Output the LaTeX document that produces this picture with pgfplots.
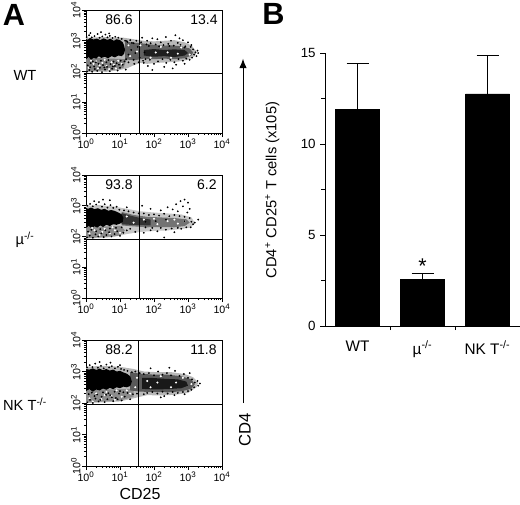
\documentclass[border=0pt]{standalone}
\usepackage{fontspec}
\setmainfont{Liberation Sans}
\usepackage{pgfplots}
\pgfplotsset{compat=1.18}
\usetikzlibrary{arrows.meta}
\tikzset{pct/.style={font=\fontsize{10.5}{10.5}\selectfont, anchor=east, inner sep=0pt}}
\pgfplotsset{
 flow/.style={
  width=102pt, scale only axis,
  xmin=0,xmax=4,ymin=0,ymax=4,
  xtick={0,1,2,3,4}, ytick={0,1,2,3,4},
  xticklabels={10\textsuperscript{0},10\textsuperscript{1},10\textsuperscript{2},10\textsuperscript{3},10\textsuperscript{4}},
  yticklabels={10\textsuperscript{0},10\textsuperscript{1},10\textsuperscript{2},10\textsuperscript{3},10\textsuperscript{4}},
  minor xtick={0.301,0.477,0.602,0.699,0.778,0.845,0.903,0.954,1.301,1.477,1.602,1.699,1.778,1.845,1.903,1.954,2.301,2.477,2.602,2.699,2.778,2.845,2.903,2.954,3.301,3.477,3.602,3.699,3.778,3.845,3.903,3.954},
  minor ytick={0.301,0.477,0.602,0.699,0.778,0.845,0.903,0.954,1.301,1.477,1.602,1.699,1.778,1.845,1.903,1.954,2.301,2.477,2.602,2.699,2.778,2.845,2.903,2.954,3.301,3.477,3.602,3.699,3.778,3.845,3.903,3.954},
  xtick pos=bottom, ytick pos=left,
  tick align=outside,
  major tick length=3pt, minor tick length=1.6pt,
  every tick/.append style={black, line width=0.5pt},
  axis line style={line width=0.7pt},
  tick label style={font=\fontsize{8}{8}\selectfont},
  yticklabel style={rotate=90, anchor=south, inner sep=1pt},
  xticklabel style={inner sep=1.5pt},
 },
 cloud/.style={only marks, mark=*, mark size=0.45pt, black},
 holes/.style={only marks, mark=*, mark size=0.55pt, white, mark options={draw=none, fill=white}},
 quad/.style={black, line width=0.6pt},
}
\begin{document}
\begin{tikzpicture}
\path[use as bounding box] (0,0) rectangle (390pt,-378pt);

% ---------------- WT ----------------
\begin{axis}[flow, height=92.25pt, at={(64.5pt,-7.5pt)}, anchor=north west]
\addplot[fill=black!28, draw=none] coordinates {(0,1.97)(0.3,2.0)(0.6,1.99)(0.9,2.03)(1.2,2.1)(1.4,2.2)(1.6,2.28)(1.8,2.25)(2.1,2.28)(2.4,2.3)(2.7,2.32)(3.0,2.38)(3.2,2.5)(3.25,2.65)(3.1,2.85)(2.9,2.95)(2.6,3.02)(2.3,3.0)(2.0,2.98)(1.7,3.0)(1.4,3.05)(1.1,3.1)(0.5,3.12)(0,3.1)} -- cycle;
\addplot[fill=black!50, draw=none] coordinates {(0,2.0)(0.4,2.03)(0.8,2.05)(1.1,2.12)(1.2,2.4)(0,2.45)} -- cycle;
\addplot[fill=black!62, draw=none] coordinates {(1.15,2.40)(1.4,2.36)(1.7,2.42)(2.0,2.40)(2.3,2.42)(2.6,2.40)(2.9,2.43)(3.1,2.52)(3.15,2.62)(3.05,2.75)(2.8,2.82)(2.5,2.85)(2.2,2.84)(1.9,2.88)(1.6,2.92)(1.3,2.95)(1.15,2.98)} -- cycle;
\addplot[fill=black!88, draw=none] coordinates {(1.7,2.52)(2.0,2.48)(2.3,2.50)(2.6,2.47)(2.9,2.52)(3.0,2.6)(2.9,2.70)(2.6,2.72)(2.3,2.70)(2.0,2.73)(1.7,2.70)} -- cycle;
\addplot[fill=black, draw=none] coordinates {(0,2.40)(0.08,2.47)(0.15,2.38)(0.22,2.45)(0.3,2.42)(0.38,2.50)(0.45,2.44)(0.55,2.48)(0.65,2.43)(0.75,2.50)(0.85,2.46)(0.95,2.52)(1.05,2.50)(1.12,2.58)(1.15,2.70)(1.12,2.85)(1.08,2.95)(1.0,3.02)(0.9,3.05)(0.82,3.00)(0.72,3.06)(0.62,3.03)(0.52,3.08)(0.42,3.02)(0.32,3.07)(0.22,3.04)(0.12,3.09)(0.05,3.03)(0,3.06)} -- cycle;
\addplot[holes] coordinates {(0.08,2.12)(0.22,2.25)(0.35,2.1)(0.48,2.28)(0.6,2.18)(0.75,2.3)(0.88,2.1)(1.05,2.25)(0.15,2.35)(0.4,2.2)(0.68,2.08)(0.95,2.35)(0.3,2.33)(0.55,2.38)(0.82,2.22)
(1.3,2.5)(1.5,2.65)(1.9,2.45)(2.2,2.8)(2.5,2.45)(2.8,2.78)(3.05,2.55)(1.6,2.85)(2.4,2.62)(2.05,2.62)(2.7,2.58)(1.25,2.85)};
\addplot[cloud] coordinates {
(0.03,2.0)(0.1,2.05)(0.18,1.99)(0.26,2.08)(0.33,2.02)(0.41,2.12)(0.47,1.98)(0.56,2.06)(0.62,2.15)(0.7,2.01)(0.77,2.09)(0.85,2.18)(0.93,2.03)(1.0,2.12)(1.08,2.22)(1.17,2.06)(1.25,2.3)(0.05,2.2)(0.14,2.27)(0.24,2.16)(0.37,2.25)(0.5,2.21)(0.6,2.3)(0.72,2.24)(0.81,2.32)(0.9,2.27)(1.02,2.35)(1.13,2.33)(0.2,2.33)(0.44,2.35)(0.66,2.37)(0.12,2.14)(0.29,2.3)(0.54,2.13)(0.79,2.16)(0.97,2.22)
(0.02,3.12)(0.09,3.18)(0.17,3.11)(0.25,3.15)(0.34,3.22)(0.4,3.1)(0.48,3.14)(0.57,3.2)(0.63,3.11)(0.7,3.16)(0.78,3.09)(0.86,3.13)(0.95,3.1)(1.05,3.06)(1.15,3.0)(1.22,2.96)(1.3,3.02)(1.4,2.92)(0.44,3.28)(0.13,3.25)(0.68,3.24)
(1.18,2.4)(1.25,2.55)(1.33,2.7)(1.4,2.38)(1.45,2.6)(1.52,2.8)(1.58,2.45)(1.62,2.95)(1.68,2.35)(1.72,2.62)(1.78,2.88)(1.2,2.99)(1.35,2.93)(1.48,3.0)(1.55,2.3)(1.42,2.25)(1.75,2.4)
(1.65,3.1)(1.8,3.0)(1.9,2.92)(1.95,3.08)(2.05,2.88)(2.1,3.05)(2.2,2.95)(2.28,2.86)(2.35,3.12)(2.42,2.9)(2.5,3.0)(2.58,2.84)(2.63,3.18)(2.7,2.93)(2.78,2.87)(2.85,3.02)(2.92,2.82)(3.0,2.95)(3.08,2.8)(3.15,2.72)(3.22,2.62)(3.28,2.68)(3.18,2.55)(3.12,2.45)(3.05,2.38)(2.95,2.42)(2.85,2.35)(2.72,2.4)(2.6,2.3)(2.48,2.38)(2.36,2.28)(2.25,2.4)(2.12,2.33)(2.0,2.25)(1.88,2.38)(1.82,2.18)(1.7,2.28)(2.3,2.15)(2.65,2.22)(2.9,2.25)(1.95,2.05)(2.55,2.1)(3.25,2.5)(3.3,2.6)(2.75,3.08)(2.15,2.82)(1.85,2.83)(2.45,2.83)(2.9,2.78)(3.1,2.86)
};
\addplot[quad] coordinates {(1.56,0)(1.56,4)};
\addplot[quad] coordinates {(0,1.95)(4,1.95)};
\node[pct] at (axis cs:1.38,3.67) {86.6};
\node[pct] at (axis cs:3.88,3.67) {13.4};
\end{axis}

% ---------------- mu ----------------
\begin{axis}[flow, height=92.25pt, at={(64.5pt,-131.25pt)}, anchor=north west]
\addplot[fill=black!22, draw=none] coordinates {(0,1.93)(0.4,1.95)(0.8,1.98)(1.2,2.08)(1.6,2.15)(2.0,2.18)(2.4,2.2)(2.8,2.24)(3.1,2.3)(3.2,2.45)(3.1,2.62)(2.8,2.72)(2.4,2.75)(2.0,2.78)(1.6,2.82)(1.2,2.9)(0.8,2.98)(0.4,3.02)(0,3.0)} -- cycle;
\addplot[fill=black!45, draw=none] coordinates {(0,1.95)(0.5,1.98)(1.0,2.03)(1.15,2.2)(1.0,2.35)(0,2.3)} -- cycle;
\addplot[fill=black!55, draw=none] coordinates {(1.05,2.36)(1.4,2.33)(1.8,2.30)(2.2,2.31)(2.6,2.30)(2.9,2.34)(3.05,2.45)(2.95,2.56)(2.6,2.60)(2.2,2.62)(1.8,2.64)(1.4,2.70)(1.05,2.80)} -- cycle;
\addplot[fill=black!80, draw=none] coordinates {(1.05,2.40)(1.3,2.38)(1.6,2.37)(1.9,2.36)(1.9,2.55)(1.6,2.60)(1.3,2.68)(1.05,2.76)} -- cycle;
\addplot[fill=black, draw=none] coordinates {(0,2.28)(0.08,2.34)(0.16,2.27)(0.25,2.33)(0.33,2.29)(0.42,2.36)(0.5,2.31)(0.6,2.38)(0.7,2.34)(0.8,2.40)(0.9,2.38)(1.0,2.42)(1.08,2.47)(1.1,2.6)(1.05,2.72)(0.95,2.78)(0.85,2.83)(0.75,2.86)(0.65,2.84)(0.55,2.9)(0.45,2.87)(0.35,2.92)(0.25,2.89)(0.15,2.94)(0.06,2.9)(0,2.93)} -- cycle;
\addplot[holes] coordinates {(0.1,2.1)(0.25,2.2)(0.4,2.05)(0.55,2.25)(0.7,2.1)(0.85,2.2)(1.0,2.12)(0.18,2.28)(0.48,2.15)(0.78,2.3)
(1.4,2.45)(1.7,2.55)(2.1,2.4)(2.4,2.5)(2.7,2.42)(2.9,2.5)(2.0,2.58)(2.6,2.55)(1.2,2.65)};
\addplot[cloud] coordinates {
(0.03,1.97)(0.11,2.03)(0.2,1.96)(0.28,2.07)(0.36,2.0)(0.45,2.1)(0.52,1.98)(0.6,2.05)(0.68,2.14)(0.75,2.0)(0.84,2.08)(0.92,2.17)(1.0,2.02)(1.1,2.12)(1.2,2.2)(0.06,2.16)(0.16,2.22)(0.3,2.17)(0.42,2.24)(0.57,2.2)(0.7,2.26)(0.88,2.28)(1.05,2.3)(1.3,2.25)(1.45,2.15)(1.7,2.12)(1.9,2.2)(2.1,2.17)(2.35,2.22)(2.6,2.14)(2.8,2.25)(2.3,1.97)
(0.04,3.0)(0.12,3.06)(0.2,2.98)(0.3,3.04)(0.38,3.12)(0.47,2.97)(0.55,3.05)(0.63,2.94)(0.72,3.02)(0.8,2.93)(0.9,2.97)(0.98,2.87)(1.12,2.85)(1.25,2.82)(0.5,3.2)(0.24,3.15)(0.7,3.18)(1.4,2.78)(1.55,2.75)(1.2,2.95)
(1.7,2.75)(1.85,2.7)(2.0,2.72)(2.15,2.68)(2.3,2.74)(2.45,2.66)(2.6,2.7)(2.75,2.66)(2.9,2.64)(3.05,2.6)(3.1,2.48)(3.15,2.4)(3.3,2.55)(3.08,2.3)(2.95,2.3)(2.7,2.28)(2.52,2.26)(2.2,2.28)(1.95,2.28)(1.75,2.3)(2.65,3.05)(2.78,3.15)(2.9,3.2)(2.85,2.98)(3.0,3.1)(3.05,2.9)(2.55,2.88)(2.4,2.95)(2.2,2.85)(1.9,2.9)(1.65,3.0)(3.2,2.45)(2.98,2.78)(2.7,2.82)(2.35,2.55)(2.05,2.5)(1.75,2.48)(2.9,2.5)
};
\addplot[quad] coordinates {(1.56,0)(1.56,4)};
\addplot[quad] coordinates {(0,1.92)(4,1.92)};
\node[pct] at (axis cs:1.38,3.67) {93.8};
\node[pct] at (axis cs:3.85,3.67) {6.2};
\end{axis}

% ---------------- NK T ----------------
\begin{axis}[flow, height=94.5pt, at={(64.5pt,-255pt)}, anchor=north west]
\addplot[fill=black!28, draw=none] coordinates {(0,2.0)(0.5,2.02)(1.0,2.05)(1.4,2.15)(1.8,2.25)(2.2,2.24)(2.6,2.26)(3.0,2.32)(3.25,2.5)(3.3,2.65)(3.15,2.82)(2.9,2.92)(2.5,2.98)(2.1,2.98)(1.7,3.0)(1.4,3.08)(1.0,3.15)(0.5,3.18)(0,3.15)} -- cycle;
\addplot[fill=black!45, draw=none] coordinates {(0,2.02)(0.5,2.05)(1.0,2.08)(1.4,2.2)(1.4,2.45)(0,2.42)} -- cycle;
\addplot[fill=black!65, draw=none] coordinates {(1.3,2.40)(1.6,2.36)(2.0,2.35)(2.4,2.34)(2.8,2.37)(3.1,2.45)(3.2,2.6)(3.1,2.75)(2.8,2.85)(2.4,2.9)(2.0,2.9)(1.6,2.93)(1.3,2.98)} -- cycle;
\addplot[fill=black!90, draw=none] coordinates {(1.65,2.45)(2.0,2.43)(2.4,2.44)(2.8,2.47)(3.0,2.55)(2.95,2.68)(2.7,2.75)(2.3,2.77)(1.9,2.8)(1.65,2.8)} -- cycle;
\addplot[fill=black, draw=none] coordinates {(0,2.38)(0.1,2.44)(0.2,2.36)(0.3,2.43)(0.4,2.40)(0.5,2.46)(0.6,2.42)(0.7,2.48)(0.8,2.44)(0.9,2.50)(1.0,2.47)(1.1,2.52)(1.2,2.50)(1.3,2.54)(1.35,2.68)(1.3,2.85)(1.2,2.93)(1.1,2.97)(1.0,3.02)(0.9,3.0)(0.8,3.06)(0.7,3.03)(0.6,3.08)(0.5,3.04)(0.4,3.09)(0.3,3.05)(0.2,3.1)(0.1,3.06)(0,3.08)} -- cycle;
\addplot[holes] coordinates {(0.1,2.15)(0.3,2.3)(0.45,2.12)(0.6,2.35)(0.75,2.22)(0.9,2.4)(1.05,2.2)(1.2,2.4)(0.2,2.05)(0.55,2.25)(0.85,2.1)(1.3,2.3)
(1.45,2.5)(1.5,2.8)(1.9,2.5)(2.2,2.85)(2.5,2.5)(2.85,2.8)(3.1,2.6)(2.1,2.65)(2.65,2.65)(1.8,2.7)};
\addplot[cloud] coordinates {
(0.04,2.02)(0.12,2.1)(0.2,2.0)(0.28,2.14)(0.37,2.05)(0.46,2.2)(0.55,2.03)(0.63,2.12)(0.71,2.25)(0.8,2.06)(0.88,2.16)(0.97,2.3)(1.05,2.08)(1.14,2.2)(1.22,2.32)(1.3,2.12)(1.38,2.28)(0.08,2.28)(0.17,2.33)(0.33,2.27)(0.5,2.34)(0.66,2.31)(0.84,2.36)(1.0,2.38)(0.25,2.22)(0.42,2.1)(0.59,2.26)(0.76,2.18)(0.93,2.12)(1.1,2.34)(1.5,2.3)(1.7,2.28)
(0.03,3.13)(0.11,3.2)(0.19,3.14)(0.27,3.25)(0.35,3.12)(0.44,3.18)(0.52,3.1)(0.6,3.22)(0.68,3.13)(0.76,3.17)(0.85,3.1)(0.94,3.15)(1.03,3.08)(1.12,3.05)(1.22,3.02)(1.35,2.98)(1.45,3.0)(1.58,2.95)(0.4,3.3)(0.72,3.28)(1.0,3.2)
(1.7,2.92)(1.85,2.95)(2.0,2.88)(2.12,3.0)(2.25,2.9)(2.38,2.95)(2.5,2.88)(2.62,3.02)(2.75,2.86)(2.88,2.92)(3.0,2.8)(3.12,2.75)(3.2,2.65)(3.28,2.7)(3.35,2.62)(3.18,2.5)(3.1,2.42)(3.0,2.38)(2.85,2.35)(2.7,2.32)(2.55,2.35)(2.4,2.3)(2.25,2.36)(2.1,2.3)(1.95,2.35)(1.8,2.32)(2.3,2.22)(2.6,2.25)(2.9,2.28)(1.9,3.1)(2.45,3.12)(3.05,2.95)(2.2,2.18)(3.3,2.55)
};
\addplot[quad] coordinates {(1.53,0)(1.53,4)};
\addplot[quad] coordinates {(0,1.97)(4,1.97)};
\node[pct] at (axis cs:1.38,3.68) {88.2};
\node[pct] at (axis cs:3.85,3.68) {11.8};
\end{axis}

% ---------------- Bar chart ----------------
\begin{axis}[
  at={(243.75pt,-244.5pt)}, anchor=south west,
  width=146.25pt, height=204.75pt, scale only axis,
  xmin=0.5, xmax=3.5, ymin=0, ymax=15,
  axis lines=left, axis line style={-, line width=0.75pt},
  ytick={0,5,10,15}, minor ytick={2.5,7.5,12.5},
  xtick={1,2,3},
  xticklabels={WT, µ\textsuperscript{-/-}, NK T\textsuperscript{-/-}},
  major x tick style={draw=none},
  minor xtick={1.5,2.5,3.5},
  tick align=outside,
  major tick length=3.5pt, minor tick length=3pt,
  every tick/.append style={black, line width=0.6pt},
  /pgf/number format/assume math mode=true,
  yticklabel style={font=\fontsize{10}{10}\selectfont},
  xticklabel style={font=\fontsize{11.5}{11.5}\selectfont, yshift=-4pt},
  ylabel={CD4\textsuperscript{+} CD25\textsuperscript{+} T cells (x105)},
  ylabel style={at={(axis description cs:-0.27,0.498)}, anchor=center, font=\fontsize{11}{11}\selectfont},
  clip=false,
]
\addplot[ybar, bar width=33pt, fill=black, draw=black,
  error bars/.cd, y dir=plus, y explicit,
  error bar style={line width=0.75pt, black},
  error mark options={rotate=90, black, line width=0.75pt, mark size=8.25pt}]
  coordinates {(1,11.92) +- (0,2.53) (2,2.58) +- (0,0.28) (3,12.75) +- (0,2.14)};
\node[font=\fontsize{16}{16}\selectfont] at (axis cs:2,3.3) {*};
\end{axis}

% ---------------- annotations ----------------
\draw[line width=0.75pt, -{Latex[length=7pt,width=5.5pt]}] (182.25pt,-302.25pt) -- (182.25pt,-44pt);
\node[rotate=90, font=\fontsize{12.5}{12.5}\selectfont] at (183.75pt,-322.5pt) {CD4};
\node[font=\fontsize{12}{12}\selectfont] at (105pt,-370.5pt) {CD25};
\node[font=\fontsize{11}{11}\selectfont] at (18.75pt,-56.25pt) {WT};
\node[font=\fontsize{11}{11}\selectfont] at (18.75pt,-180pt) {µ\textsuperscript{-/-}};
\node[font=\fontsize{11}{11}\selectfont] at (18.75pt,-303pt) {NK T\textsuperscript{-/-}};
\node[font=\bfseries\fontsize{23}{23}\selectfont] at (10.5pt,-11.25pt) {A};
\node[font=\bfseries\fontsize{23}{23}\selectfont] at (205pt,-10.5pt) {B};
\end{tikzpicture}
\end{document}
